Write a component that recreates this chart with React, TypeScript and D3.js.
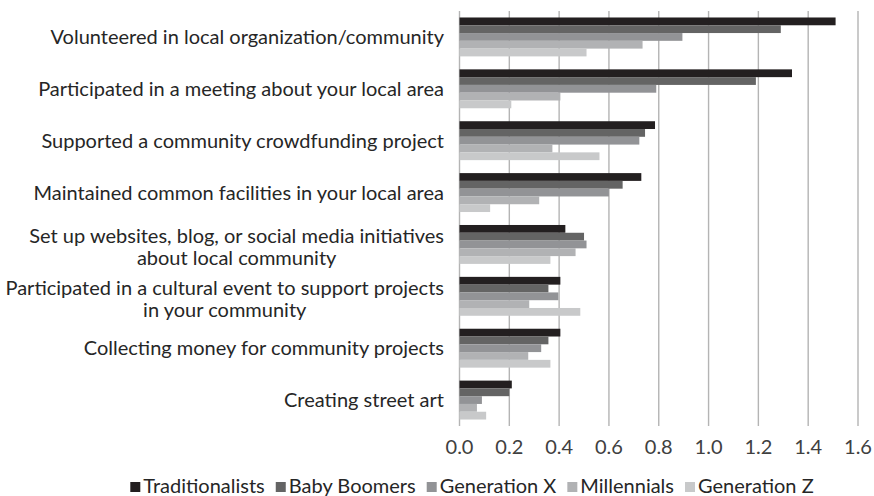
import { useEffect, useRef } from 'react';
import * as d3 from 'd3';

// categories top -> bottom, labels split on '\n'
const categories = [
  'Volunteered in local organization/community',
  'Participated in a meeting about your local area',
  'Supported a community crowdfunding project',
  'Maintained common facilities in your local area',
  'Set up websites, blog, or social media initiatives\nabout local community',
  'Participated in a cultural event to support projects\nin your community',
  'Collecting money for community projects',
  'Creating street art',
];

const seriesNames = ['Traditionalists', 'Baby Boomers', 'Generation X', 'Millennials', 'Generation Z'];

const traditionalists = [1.51, 1.335, 0.785, 0.73, 0.425, 0.405, 0.405, 0.21];
const babyBoomers = [1.29, 1.19, 0.745, 0.655, 0.5, 0.357, 0.357, 0.2];
const generationX = [0.895, 0.79, 0.722, 0.6, 0.51, 0.397, 0.328, 0.09];
const millennials = [0.735, 0.405, 0.373, 0.32, 0.466, 0.28, 0.276, 0.07];
const generationZ = [0.51, 0.208, 0.562, 0.123, 0.365, 0.485, 0.365, 0.107];

const xTicks = [0, 0.2, 0.4, 0.6, 0.8, 1.0, 1.2, 1.4, 1.6];

const colors = ['#231f20', '#646464', '#929396', '#b1b2b4', '#c8c9ca'];

const W = 874;
const H = 496;
const FONT = 'Lato, "Open Sans", sans-serif';

export default function App() {
  const ref = useRef<SVGSVGElement | null>(null);

  useEffect(() => {
    const svg = d3.select(ref.current);
    svg.selectAll('*').remove();

    const values = [traditionalists, babyBoomers, generationX, millennials, generationZ];

    const x = d3.scaleLinear().domain([0, 1.6]).range([459.5, 858]);
    const y = d3
      .scaleBand<string>()
      .domain(categories)
      .range([11, 426])
      .paddingInner(0.25)
      .paddingOuter(0.125);
    const y1 = d3
      .scaleBand<string>()
      .domain(seriesNames)
      .range([0, y.bandwidth()]);

    // gridlines
    svg
      .append('g')
      .selectAll('line')
      .data(xTicks)
      .join('line')
      .attr('x1', (d) => x(d))
      .attr('x2', (d) => x(d))
      .attr('y1', 11)
      .attr('y2', 426)
      .attr('stroke', '#b4b4b4')
      .attr('stroke-width', 1.4);

    // bars
    const groups = svg
      .append('g')
      .selectAll('g')
      .data(categories)
      .join('g')
      .attr('transform', (c) => `translate(0,${y(c)})`);

    groups
      .selectAll('rect')
      .data((_c, i) => seriesNames.map((s, si) => ({ s, si, v: values[si][i] })))
      .join('rect')
      .attr('x', x(0))
      .attr('y', (d) => y1(d.s)!)
      .attr('width', (d) => x(d.v) - x(0))
      .attr('height', y1.bandwidth())
      .attr('fill', (d) => colors[d.si]);

    // category labels (multi-line centered to each other, block right-aligned)
    const labelRight = 444;
    const labels = svg.append('g').attr('font-family', FONT).attr('font-size', 20).attr('fill', '#262626');
    categories.forEach((c) => {
      const lines = c.split('\n');
      const t = labels.append('text').attr('text-anchor', 'middle');
      const spans = lines.map((ln) => t.append('tspan').text(ln));
      const maxW = d3.max(spans, (sp) => (sp.node() as SVGTSpanElement).getComputedTextLength()) || 0;
      const cx = labelRight - maxW / 2;
      const cy = y(c)! + y.bandwidth() / 2;
      const lh = 22;
      spans.forEach((sp, i) => {
        sp.attr('x', cx).attr('y', cy + 7 + (i - (lines.length - 1) / 2) * lh + (lines.length > 1 ? 3 : 0));
      });
    });

    // x tick labels
    svg
      .append('g')
      .attr('font-family', FONT)
      .attr('font-size', 20)
      .attr('fill', '#404040')
      .selectAll('text')
      .data(xTicks)
      .join('text')
      .attr('x', (d) => x(d))
      .attr('y', 454)
      .attr('text-anchor', 'middle')
      .text((d) => d3.format('.1f')(d));

    // legend
    const legend = svg.append('g').attr('font-family', FONT).attr('font-size', 20).attr('fill', '#262626');
    const box = 10;
    const items = seriesNames.map((s, i) => {
      const g = legend.append('g');
      g.append('rect').attr('width', box).attr('height', box).attr('y', -box - 1).attr('fill', colors[i]);
      const t = g.append('text').attr('x', box + 3).attr('y', 0).text(s);
      const w = box + 3 + (t.node() as SVGTextElement).getComputedTextLength();
      return { g, w };
    });
    const gap = 11;
    const total = d3.sum(items, (d) => d.w) + gap * (items.length - 1);
    let cur = 472 - total / 2;
    items.forEach((it) => {
      it.g.attr('transform', `translate(${cur},493)`);
      cur += it.w + gap;
    });
  }, []);

  return (
    <svg
      ref={ref}
      width={W}
      height={H}
      style={{ position: 'absolute', left: 0, top: 0, background: '#fff' }}
    />
  );
}
